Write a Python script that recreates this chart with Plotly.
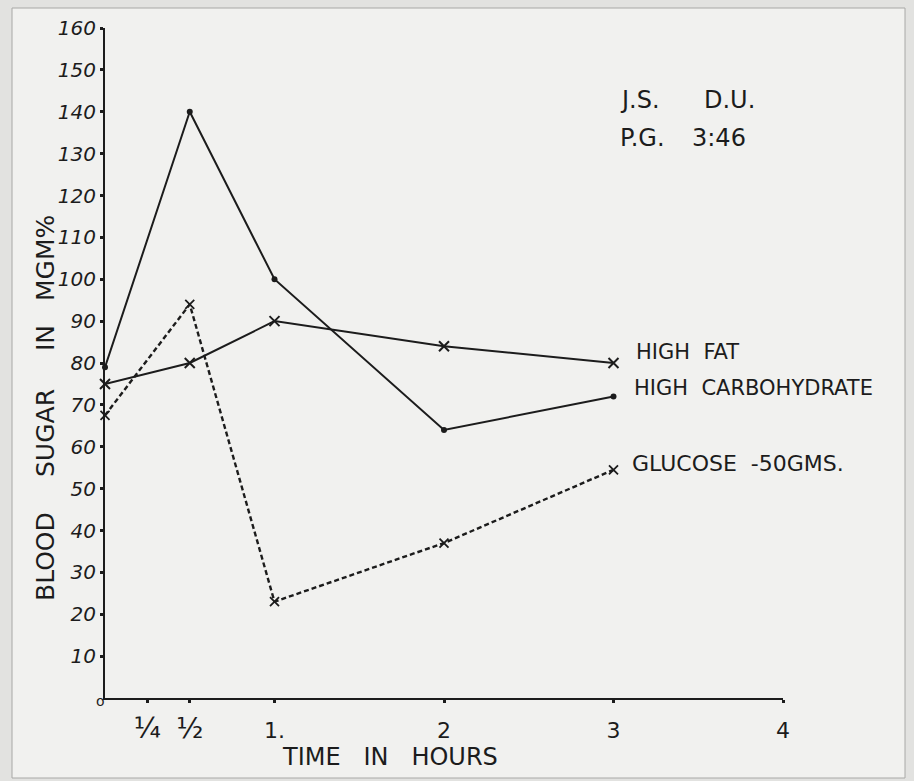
import plotly.graph_objects as go

# ---- data ----
hours = [0, 0.5, 1, 2, 3]
high_fat = [75, 80, 90, 84, 80]
high_carbohydrate = [79, 140, 100, 64, 72]
glucose_50gms = [67.5, 94, 23, 37, 54.5]

x_tick_vals = [0.25, 0.5, 1, 2, 3, 4]
x_tick_text = ["<span style='font-size:28px'>¼</span>",
               "<span style='font-size:28px'>½</span>",
               "1.", "2", "3", "4"]
y_tick_vals = [10, 20, 30, 40, 50, 60, 70, 80, 90, 100, 110, 120, 130, 140, 150, 160]
y_tick_text = [str(v) for v in y_tick_vals]

INK = "#1c1c1c"
FONT = "DejaVu Sans"
W, H = 914, 781
L, R, T, B = 105, 783, 28, 698  # plot-area pixel edges


def pxx(p):
    return (p - L) / (R - L)


def pxy(p):
    return (B - p) / (B - T)


fig = go.Figure()

fig.add_trace(go.Scatter(
    x=hours, y=high_fat, mode="lines+markers", name="HIGH FAT",
    line=dict(color=INK, width=2),
    marker=dict(symbol="x-thin-open", size=10, line=dict(color=INK, width=2)),
    cliponaxis=False,
))
fig.add_trace(go.Scatter(
    x=hours, y=high_carbohydrate, mode="lines+markers", name="HIGH CARBOHYDRATE",
    line=dict(color=INK, width=2),
    marker=dict(symbol="circle", size=6, color=INK),
    cliponaxis=False,
))
fig.add_trace(go.Scatter(
    x=hours, y=glucose_50gms, mode="lines+markers", name="GLUCOSE -50GMS.",
    line=dict(color=INK, width=2.4, dash="5px,3px"),
    marker=dict(symbol="x-thin-open", size=9, line=dict(color=INK, width=1.8)),
    cliponaxis=False,
))

annotations = []


def text(t, x, y, size, xanchor="left", angle=0, style="normal"):
    annotations.append(dict(
        text=t, xref="paper", yref="paper", x=pxx(x), y=pxy(y),
        xanchor=xanchor, yanchor="middle", showarrow=False, textangle=angle,
        font=dict(family=FONT, size=size, color=INK, style=style),
    ))


# series labels
text("HIGH\u00a0\u00a0FAT", 634, 352, 21)
text("HIGH\u00a0\u00a0CARBOHYDRATE", 632, 388, 21)
text("GLUCOSE\u00a0\u00a0-50GMS.", 630, 463, 22)

# corner notes
text("J.S.", 618, 100, 24)
text("D.U.", 702, 100, 24)
text("P.G.", 618, 138, 24)
text("3:46", 690, 138, 24)

# y-axis title, word by word
for word, yc in [("BLOOD", 557), ("SUGAR", 433), ("IN", 338), ("MGM%", 258)]:
    text(word, 45, yc, 25, xanchor="center", angle=-90)

# x-axis title
text("TIME\u00a0\u00a0\u00a0IN\u00a0\u00a0\u00a0HOURS", 390, 757, 24, xanchor="center")

# origin zero
text("o", 100, 701, 14, xanchor="center")

shapes = [
    dict(type="rect", xref="paper", yref="paper", layer="below",
         x0=pxx(12), x1=pxx(905), y0=pxy(778), y1=pxy(8),
         fillcolor="#f1f1ef", line=dict(color="#a8a8a6", width=1)),
]

fig.update_layout(
    width=W, height=H,
    margin=dict(l=L, r=W - R, t=T, b=H - B),
    paper_bgcolor="#e2e2e0",
    plot_bgcolor="rgba(0,0,0,0)",
    showlegend=False,
    annotations=annotations,
    shapes=shapes,
    xaxis=dict(
        range=[0, 4], showgrid=False, zeroline=False,
        showline=True, linecolor=INK, linewidth=2.2,
        tickvals=x_tick_vals, ticktext=x_tick_text,
        ticks="outside", ticklen=3, tickwidth=3, tickcolor=INK,
        ticklabelstandoff=8,
        tickfont=dict(family=FONT, size=22, color=INK),
    ),
    yaxis=dict(
        range=[0, 160], showgrid=False, zeroline=False,
        showline=True, linecolor=INK, linewidth=2.2,
        tickvals=y_tick_vals, ticktext=y_tick_text,
        ticks="outside", ticklen=3, tickwidth=3, tickcolor=INK,
        ticklabelstandoff=0,
        tickfont=dict(family=FONT, size=20, color=INK, style="italic"),
    ),
)

fig.write_html(
    "out.html",
    config={"displayModeBar": False},
    post_script="document.body.style.margin='0';document.body.style.overflow='hidden';",
)
